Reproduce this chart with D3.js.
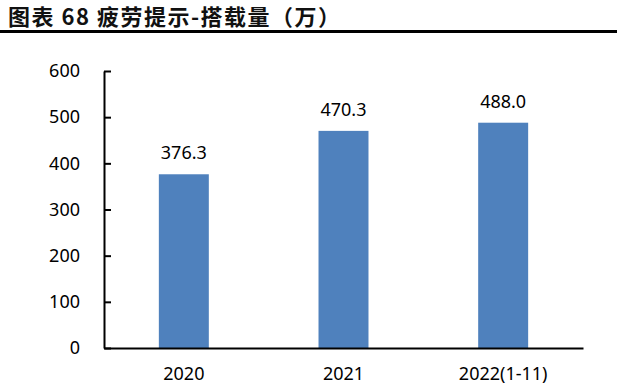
<!DOCTYPE html>
<html>
<head>
<meta charset="utf-8">
<script src="https://cdn.jsdelivr.net/npm/d3@7"></script>
<style>
  body { margin: 0; background: #fff; }
  svg { display: block; }
</style>
</head>
<body>
<svg id="chart" width="617" height="386"></svg>
<script>
// data
const categories = ["2020", "2021", "2022(1-11)"];
const values = [376.3, 470.3, 488.0];
const yTicks = [0, 100, 200, 300, 400, 500, 600];

const width = 617, height = 386;
const svg = d3.select("#chart");
const numFont = "'Noto Sans', 'Liberation Sans', sans-serif";

// title + rule
svg.append("text")
  .attr("x", 8)
  .attr("y", 25)
  .style("font-family", "'Noto Sans CJK SC', sans-serif")
  .style("font-weight", "bold")
  .style("font-size", "22px")
  .style("letter-spacing", "1.5px")
  .style("white-space", "pre")
  .attr("fill", "#111")
  .text("图表 68 疲劳提示-搭载量（万）");

svg.append("line")
  .attr("x1", 0).attr("x2", width)
  .attr("y1", 31.5).attr("y2", 31.5)
  .attr("stroke", "#000")
  .attr("stroke-width", 3);

const x = d3.scaleBand()
  .domain(categories)
  .range([104, 583])
  .paddingInner(0.687)
  .paddingOuter(0.3435);

const y = d3.scaleLinear()
  .domain([0, 600])
  .range([348, 71]);

// bars
svg.selectAll("rect.bar")
  .data(values)
  .enter()
  .append("rect")
  .attr("class", "bar")
  .attr("x", (d, i) => x(categories[i]))
  .attr("width", x.bandwidth())
  .attr("y", d => y(d))
  .attr("height", d => y(0) - y(d))
  .attr("fill", "#4f81bd");

// value labels
svg.selectAll("text.val")
  .data(values)
  .enter()
  .append("text")
  .attr("class", "val")
  .attr("x", (d, i) => x(categories[i]) + x.bandwidth() / 2)
  .attr("y", d => y(d) - 15)
  .attr("text-anchor", "middle")
  .style("font-family", numFont)
  .style("font-size", "18px")
  .attr("fill", "#000")
  .text(d => d.toFixed(1));

// y axis
const yAxis = svg.append("g")
  .attr("transform", "translate(104,0)")
  .call(d3.axisLeft(y).tickValues(yTicks).tickSize(-7).tickPadding(24).tickSizeOuter(0));
yAxis.select(".domain").attr("stroke", "#000").attr("stroke-width", 2);
yAxis.selectAll(".tick line").attr("stroke", "#000").attr("stroke-width", 2);
yAxis.selectAll(".tick text")
  .style("font-family", numFont)
  .style("font-size", "18px")
  .attr("fill", "#000");

// x axis
const xAxis = svg.append("g")
  .attr("transform", "translate(0,348)")
  .call(d3.axisBottom(x).tickSize(0).tickSizeOuter(0));
xAxis.select(".domain").attr("stroke", "#000").attr("stroke-width", 2);
xAxis.selectAll(".tick text")
  .attr("y", 32)
  .attr("dy", 0)
  .style("font-family", numFont)
  .style("font-size", "18px")
  .attr("fill", "#000");
</script>
</body>
</html>
